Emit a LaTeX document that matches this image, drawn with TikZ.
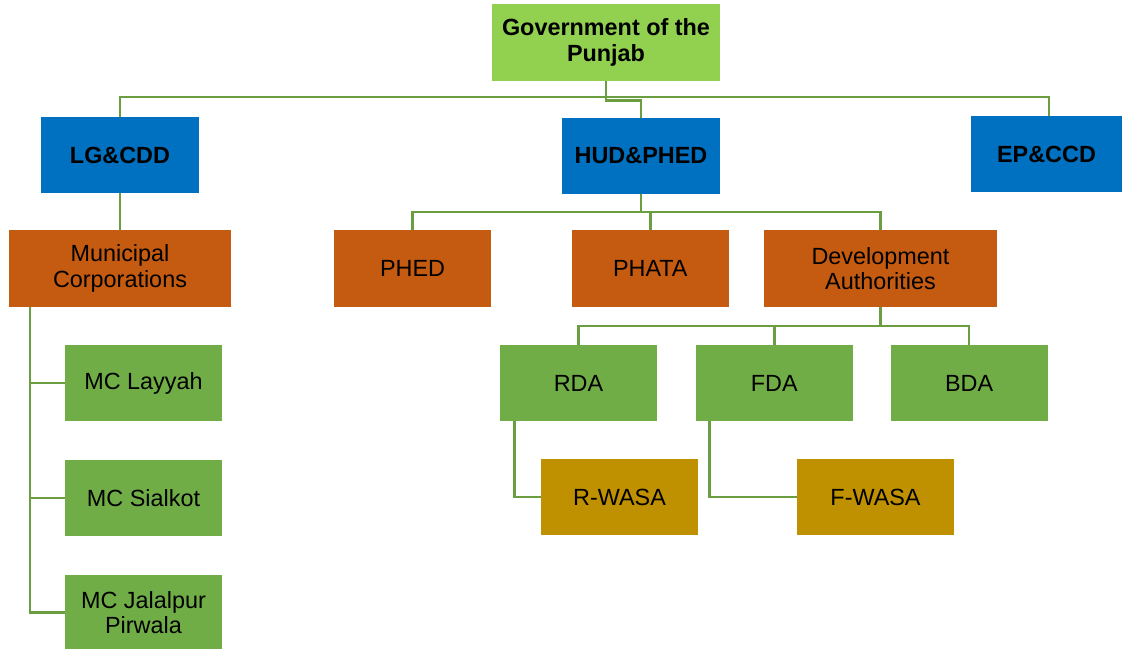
\documentclass[tikz,border=0pt]{standalone}
\usepackage{fontspec}
\setmainfont{Liberation Sans}
\usetikzlibrary{positioning,calc}

\definecolor{govgreen}{HTML}{92D050}
\definecolor{deptblue}{HTML}{0070C0}
\definecolor{unitorange}{HTML}{C55A11}
\definecolor{leafgreen}{HTML}{70AD47}
\definecolor{wasagold}{HTML}{BF9000}
\definecolor{linkgreen}{HTML}{6A9E40}

\begin{document}
\begin{tikzpicture}[x=0.5pt,y=-0.5pt,
        box/.style={rectangle,inner sep=2pt,align=center,text=black,
            font=\fontsize{11.7}{12.6}\selectfont,minimum height=38.5pt},
        top/.style={box,fill=govgreen,font=\fontsize{11.7}{12.6}\selectfont\bfseries,
            minimum width=114pt},
        dept/.style={box,fill=deptblue,font=\fontsize{11.7}{12.6}\selectfont\bfseries,
            minimum width=79pt,minimum height=38pt},
        unit/.style={box,fill=unitorange,minimum width=78.5pt},
        leaf/.style={box,fill=leafgreen,minimum width=78.5pt,minimum height=38pt},
        wasa/.style={box,fill=wasagold,minimum width=78.5pt,minimum height=38pt},
        link/.style={draw=linkgreen,line width=1.2pt}]
        \useasboundingbox (0,0) rectangle (1122,648);
        % levels
        \node[top] (gov) at (606,42.5) {Government of the\\Punjab};
        \node[dept] (lg) at (120,155) {LG\&CDD};
        \node[dept] (hud) at (641,156) {HUD\&PHED};
        \node[dept,minimum width=75.5pt] (ep) at (1046.5,154) {EP\&CCD};
        \node[unit,minimum width=111pt] (mc) at (120,268.5) {Municipal\\Corporations};
        \node[unit] (phed) at (412.5,268.5) {PHED};
        \node[unit,right=40pt of phed] (phata) {PHATA};
        \node[unit,minimum width=116.5pt] (da) at (880.5,268.5) {Development\\Authorities};
        \node[leaf] (rda) at (578.5,383) {RDA};
        \node[leaf,right=19pt of rda] (fda) {FDA};
        \node[leaf,right=18.5pt of fda] (bda) {BDA};
        \node[wasa] (rwasa) at (619.5,497) {R-WASA};
        \node[wasa] (fwasa) at (875.5,497) {F-WASA};
        \node[leaf] (mcl) at (143.5,383) {MC Layyah};
        \node[leaf,below=19pt of mcl] (mcs) {MC Sialkot};
        \node[leaf,below=19pt of mcs] (mcj) {MC Jalalpur\\Pirwala};
        % bus lines
        \coordinate (topbus) at (0,97);
        \coordinate (hudbus) at (0,212);
        \coordinate (dabus) at (0,326);
        \coordinate (mcbus) at (30,0);
        \draw[link] (lg.north) -- (lg.north |- topbus) -- ($(ep.north |- topbus)+(2.5,0)$)
            -- ($(ep.north)+(2.5,0)$);
        \draw[link] (gov.south) -- ++(0,19) -| (hud.north);
        \draw[link] (lg.south) -- (mc.north);
        \draw[link] (hud.south) -- (hud.south |- hudbus);
        \draw[link] (phed.north) -- (phed.north |- hudbus) -| (da.north);
        \draw[link] (phata.north) -- (phata.north |- hudbus);
        \draw[link] (da.south) -- (da.south |- dabus);
        \draw[link] (rda.north) -- (rda.north |- dabus) -| (bda.north);
        \draw[link] (fda.north) -- (fda.north |- dabus);
        \draw[link] ([xshift=7.5pt]rda.south west) |- (rwasa.west);
        \draw[link] ([xshift=7pt]fda.south west) |- (fwasa.west);
        \draw[link] (mc.south -| mcbus) |- (mcj.west);
        \draw[link] (mcl.west) -- (mcl.west -| mcbus);
        \draw[link] (mcs.west) -- (mcs.west -| mcbus);
\end{tikzpicture}
\end{document}
